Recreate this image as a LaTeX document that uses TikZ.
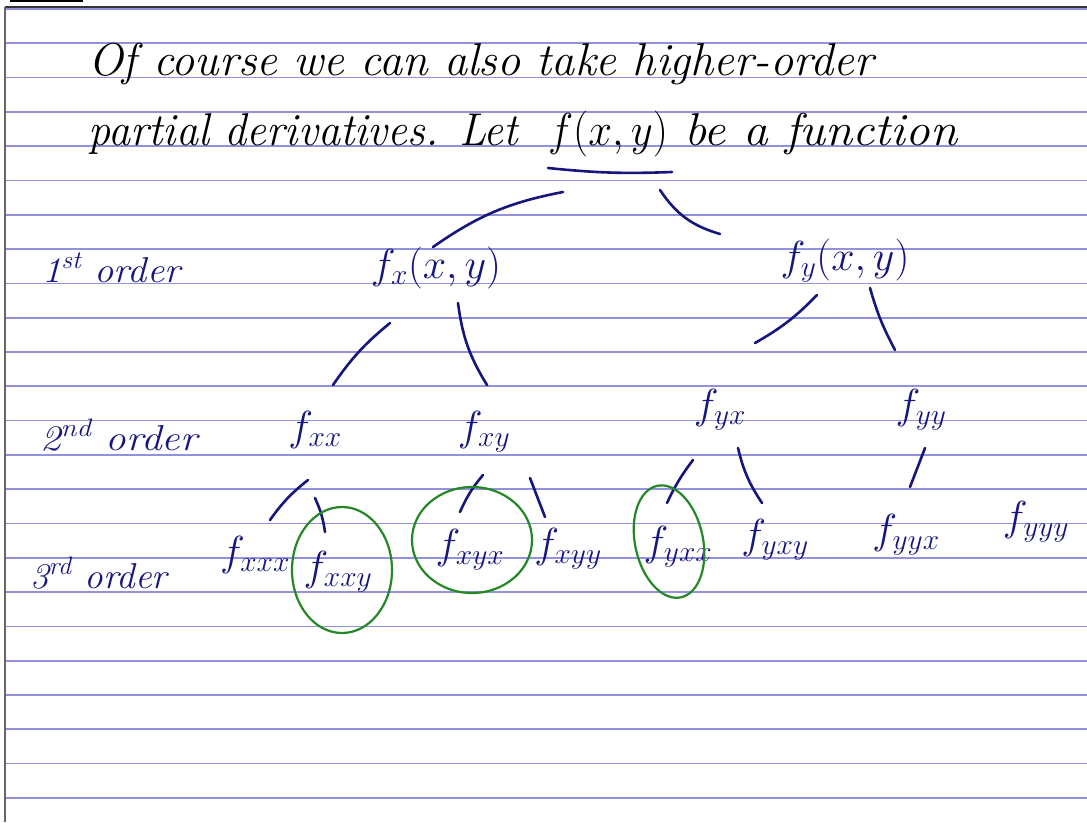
\RequirePackage{fix-cm}
\documentclass[tikz,border=0pt]{standalone}
\usepackage{fontspec}
\usetikzlibrary{calc}
\definecolor{ink}{RGB}{22,22,125}
\definecolor{rulec}{RGB}{146,146,220}
\definecolor{ringc}{RGB}{38,135,38}
\begin{document}
\begin{tikzpicture}[x=1pt,y=-1pt,
  sent/.style={anchor=base west, inner sep=0pt, text=black, font=\fontsize{46}{50}\selectfont\itshape},
  tree/.style={anchor=base, text=ink, inner sep=0pt, font=\fontsize{42}{46}\selectfont},
  lab/.style={anchor=base west, text=ink, inner sep=0pt, font=\fontsize{36}{40}\selectfont\itshape},
  conn/.style={draw=ink, line width=2.6pt, line cap=round},
  ring/.style={draw=ringc, line width=2.2pt},
  rulel/.style={draw=rulec, line width=1.7pt}]
\fill[white] (0,0) rectangle (1087,822);
\useasboundingbox (0,0) rectangle (1087,822);
% ruled paper
\foreach \k in {0,...,23}{\draw[rulel] (6,{9+34.3*\k}) -- (1087,{9+34.3*\k});}
\draw[black!80, line width=2pt] (5,7) -- (1087,7);
\draw[black!60, line width=2.5pt] (5,7) -- (5,822);
\draw[black, line width=2pt] (10,1) -- (83,1);
% sentence
\node[sent] (l1) at (88,75) {\resizebox{785pt}{\height}{Of course we can also take higher-order}};
\node[sent] (l2a) at (88,145) {\resizebox{430pt}{\height}{partial derivatives. Let}};
\node[sent, anchor=base] (root) at (608,145) {\resizebox{120pt}{\height}{$f(x,y)$}};
\node[sent] (l2b) at (684,145) {\resizebox{273pt}{\height}{be a function}};
% order labels
\node[lab] (o1) at (42,282) {\resizebox{138pt}{\height}{1\textsuperscript{st} order}};
\node[lab] (o2) at (40,450) {\resizebox{157pt}{\height}{2\textsuperscript{nd} order}};
\node[lab] (o3) at (30,588) {\resizebox{137pt}{\height}{3\textsuperscript{rd} order}};
% tree nodes
\node[tree] (fx) at (436,278) {$f_x(x,y)$};
\node[tree] (fy) at (845,270) {$f_y(x,y)$};
\node[tree] (fxx) at (315,440) {$f_{xx}$};
\node[tree] (fxy) at (484,440) {$f_{xy}$};
\node[tree] (fyx) at (720,418) {$f_{yx}$};
\node[tree] (fyy) at (921,418) {$f_{yy}$};
\node[tree] (fxxx) at (255,565) {$f_{xxx}$};
\node[tree] (fxxy) at (338,580) {$f_{xxy}$};
\node[tree] (fxyx) at (470,558) {$f_{xyx}$};
\node[tree] (fxyy) at (568,557) {$f_{xyy}$};
\node[tree] (fyxx) at (678,555) {$f_{yxx}$};
\node[tree] (fyxy) at (775,548) {$f_{yxy}$};
\node[tree] (fyyx) at (906,543) {$f_{yyx}$};
\node[tree] (fyyy) at (1036,530) {$f_{yyy}$};
% underline
\draw[conn] ($(root.base)+(-60,23)$) to[bend right=4] ($(root.base)+(64,27)$);
% connectors
\draw[conn] ($(root.base)+(-45,47)$) to[bend right=12] ($(fx.base)+(-3,-31)$);
\draw[conn] ($(root.base)+(52,45)$) to[bend right=20] ($(fy.base)+(-125,-36)$);
\draw[conn] ($(fx.base)+(-46,45)$) to[bend right=8] ($(fxx.base)+(18,-55)$);
\draw[conn] ($(fx.base)+(22,25)$) to[bend right=12] ($(fxy.base)+(3,-55)$);
\draw[conn] ($(fy.base)+(-28,25)$) to[bend left=8] ($(fyx.base)+(35,-75)$);
\draw[conn] ($(fy.base)+(25,18)$) to[bend right=6] ($(fyy.base)+(-26,-68)$);
\draw[conn] ($(fxx.base)+(-7,40)$) to[bend right=8] ($(fxxx.base)+(15,-45)$);
\draw[conn] ($(fxx.base)+(0,58)$) to[bend left=8] ($(fxxy.base)+(-13,-48)$);
\draw[conn] ($(fxy.base)+(-1,35)$) to[bend right=8] ($(fxyx.base)+(-10,-46)$);
\draw[conn] ($(fxy.base)+(46,38)$) -- ($(fxyy.base)+(-23,-40)$);
\draw[conn] ($(fyx.base)+(-27,42)$) to[bend right=6] ($(fyxx.base)+(-11,-52)$);
\draw[conn] ($(fyx.base)+(18,30)$) to[bend right=10] ($(fyxy.base)+(-13,-45)$);
\draw[conn] ($(fyy.base)+(4,30)$) -- ($(fyyx.base)+(4,-56)$);
% green rings
\draw[ring] ($(fxxy.base)+(4,-10)$) ellipse [x radius=50, y radius=63];
\draw[ring] ($(fxyx.base)+(2,-18)$) ellipse [x radius=60, y radius=53];
\draw[ring, rotate around={12:($(fyxx.base)+(-6,-15)$)}] ($(fyxx.base)+(-6,-15)$) ellipse [x radius=34, y radius=57];
\end{tikzpicture}
\end{document}
